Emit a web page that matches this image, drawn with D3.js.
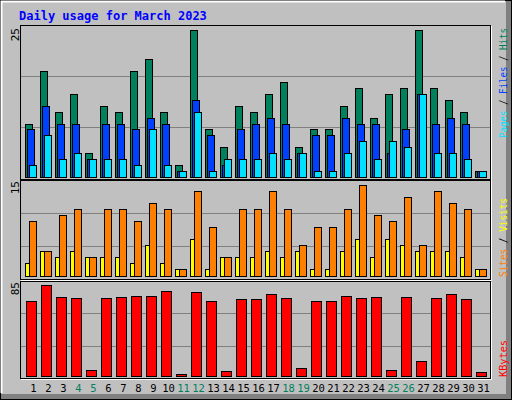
<!DOCTYPE html><html><head><meta charset="utf-8">
<script src="https://cdn.jsdelivr.net/npm/d3@7"></script>
<style>body{margin:0}svg{display:block}</style></head><body>
<script>
const days = d3.range(1,32);
const weekends = [4,5,11,12,18,19,25,26];
const hits  = [9,18,11,14,4,12,11,18,20,11,2,25,8,5,12,11,14,16,5,8,8,12,15,10,14,15,25,15,13,11,1];
const files = [8,12,9,9,3,9,9,8,10,9,1,13,7,2,8,9,10,9,4,7,7,10,9,9,4,8,14,9,10,9,1];
const pages = [2,7,3,4,3,3,3,2,8,2,1,11,1,3,3,3,4,3,4,1,1,4,6,3,6,5,14,4,4,3,1];
const visits= [2,4,3,4,3,3,3,2,5,2,1,6,1,3,3,3,4,3,4,1,1,4,6,3,6,5,4,4,4,3,1];
const sites = [9,4,10,11,3,11,11,9,12,11,1,14,8,3,11,11,14,11,5,8,8,11,15,10,9,13,5,14,12,11,1];
const kbytes= [70,85,73,72,5,72,73,74,74,79,1,78,70,4,71,71,76,72,7,70,70,74,72,73,5,73,14,72,76,71,3];
const yMax = {hits:"25", visits:"15", kbytes:"85"};

const W=512,H=400;
const svg=d3.select("body").append("svg").attr("width",W).attr("height",H).style("font-family","'DejaVu Sans Mono',monospace");
svg.append("rect").attr("width",W).attr("height",H).attr("fill","#C0C0C0");
svg.append("rect").attr("x",506).attr("y",0).attr("width",6).attr("height",H).attr("fill","#808080");
svg.append("rect").attr("x",0).attr("y",394).attr("width",W).attr("height",6).attr("fill","#808080");
svg.append("rect").attr("x",0.5).attr("y",0.5).attr("width",W-1).attr("height",H-1).attr("fill","none").attr("stroke","#000");
svg.append("path").attr("d","M1.5,393V1.5H505").attr("stroke","#fff").attr("stroke-width",2).attr("fill","none");

svg.append("text").attr("x",19).attr("y",20).attr("fill","#0000FF").attr("font-size",12).attr("font-weight","bold").text("Daily usage for March 2023");

const x=d3.scaleBand().domain(days).range([25,490]);
const panels=[{t:25,b:179,g:[76,127]},{t:180,b:279,g:[213,246]},{t:281,b:378,g:[313,346]}];
panels.forEach(p=>{
  svg.append("rect").attr("x",20.5).attr("y",p.t+0.5).attr("width",470).attr("height",p.b-p.t).attr("fill","#C0C0C0").attr("stroke","#000");
  svg.append("path").attr("d",`M21,${p.b+1.5}H491.5V${p.t+1}`).attr("stroke","#fff").attr("fill","none");
  p.g.forEach(gy=>svg.append("line").attr("x1",21).attr("x2",490).attr("y1",gy+0.5).attr("y2",gy+0.5).attr("stroke","#808080"));
});

const yTop=d3.scaleLinear().domain([0,25]).range([176.5,29.5]);
const yMid=d3.scaleLinear().domain([0,15]).range([275.5,184.5]);
const yBot=d3.scaleLinear().domain([0,85]).range([375.5,284.5]);

function bars(data,y,off,w,color){
  svg.append("g").selectAll("rect").data(data).join("rect")
    .attr("x",(d,i)=>Math.round(x(days[i])+off)+0.5).attr("width",w)
    .attr("y",d=>Math.round(y(d))+0.5).attr("height",d=>Math.max(0,Math.round(y(0))-Math.round(y(d))))
    .attr("fill",color).attr("stroke","#000");
}
bars(hits,yTop,0,7,"#00805C");
bars(files,yTop,2,7,"#0040FF");
bars(pages,yTop,4,7,"#00E0FF");
bars(visits,yMid,0,4,"#FFFF00");
bars(sites,yMid,4,7,"#FF8000");
bars(kbytes,yBot,1,10,"#FF0000");

[[yMax.hits,28],[yMax.visits,181],[yMax.kbytes,282]].forEach(([t,yy])=>{
  svg.append("text").attr("transform",`translate(19,${yy}) rotate(-90)`).attr("text-anchor","end").attr("font-size",11).attr("fill","#000").text(t);
});
svg.append("g").selectAll("text").data(days).join("text")
  .attr("x",d=>x(d)+x.bandwidth()/2+1).attr("y",392).attr("text-anchor","middle").attr("font-size",10.5)
  .attr("fill",d=>weekends.includes(d)?"#00805C":"#000").text(d=>d);

function legend(parts,yStart,len){
  const t=svg.append("text").attr("transform",`translate(507,${yStart}) rotate(-90)`).attr("font-size",10)
    .attr("textLength",len).attr("lengthAdjust","spacingAndGlyphs");
  parts.forEach(([s,c])=>t.append("tspan").attr("fill",c).text(s));
}
legend([["Pages","#00E0FF"],[" / ","#000"],["Files","#0040FF"],[" / ","#000"],["Hits","#00805C"]],138,110);
legend([["Sites","#FF8000"],[" / ","#000"],["Visits","#FFFF00"]],277,79);
legend([["KBytes","#FF0000"]],377,37);
</script></body></html>
